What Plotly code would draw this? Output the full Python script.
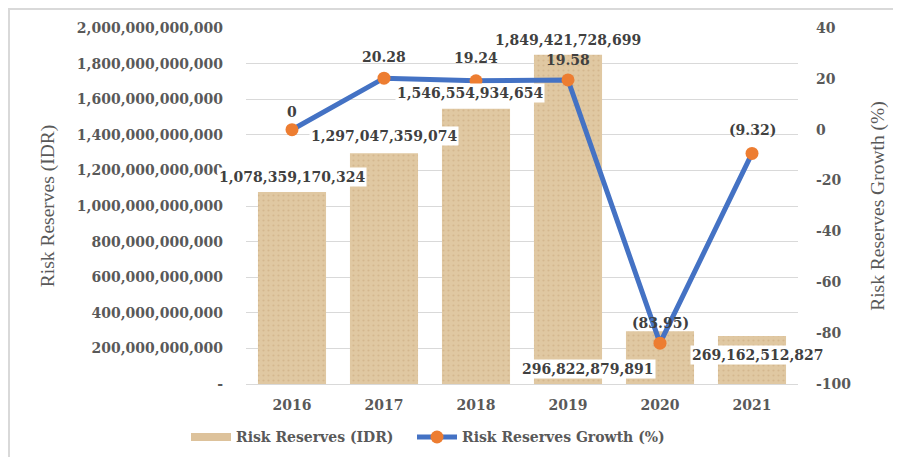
import plotly.graph_objects as go

years = ["2016", "2017", "2018", "2019", "2020", "2021"]
reserves = [1078359170324, 1297047359074, 1546554934654, 1849421728699, 296822879891, 269162512827]
growth = [0, 20.28, 19.24, 19.58, -83.95, -9.32]
left_ticks = [0, 200e9, 400e9, 600e9, 800e9, 1000e9, 1200e9, 1400e9, 1600e9, 1800e9, 2000e9]
right_ticks = [-100, -80, -60, -40, -20, 0, 20, 40]

LFONT = "DejaVu Serif"
TFONT = "Liberation Serif"
GRAY = "#595959"
TAN = "#E0C8A2"

W, H = 893, 449
L, T, PW, PH = 238, 20, 552, 356

# label offsets (styles): (xshift, yshift)
bar_label_shift = [(0, 15), (0, 17), (-6, 16), (0, 15), (-72, -38), (6, -19)]
line_label_shift = [(0, 18), (0, 21), (0, 23), (0, 20), (0, 20), (0, 23)]

def fmt_growth(v):
    if v < 0:
        return "({:.2f})".format(-v)
    if v == 0:
        return "0"
    return "{:.2f}".format(v)

fig = go.Figure()
fig.add_trace(go.Bar(
    x=years, y=reserves, name="Risk Reserves (IDR)", showlegend=False,
    marker=dict(color=TAN, line=dict(width=0),
                pattern=dict(shape=".", fgcolor="#C7A57A", bgcolor=TAN, size=5, solidity=0.15)),
    width=0.74, yaxis="y",
))
# legend key for the bars (wide flat swatch, as in the reference)
fig.add_trace(go.Scatter(
    x=[None], y=[None], name="Risk Reserves (IDR)", mode="lines",
    line=dict(color="#DDC29B", width=8), legend="legend", hoverinfo="skip",
))
fig.add_trace(go.Scatter(
    x=years, y=growth, name="Risk Reserves Growth (%)", yaxis="y2",
    mode="lines+markers",
    line=dict(color="#4472C4", width=5),
    marker=dict(color="#ED7D31", size=13, line=dict(width=0)),
    legend="legend2",
))

bold = dict(family=LFONT, size=14, color="#404040", weight="bold")
annotations = []
for i, v in enumerate(reserves):
    xs, ys = bar_label_shift[i]
    annotations.append(dict(
        x=i, y=v, xref="x", yref="y", text="{:,}".format(v),
        showarrow=False, xshift=xs, yshift=ys, bgcolor="white", font=bold,
    ))
for i, g in enumerate(growth):
    xs, ys = line_label_shift[i]
    annotations.append(dict(
        x=i, y=g, xref="x", yref="y2", text=fmt_growth(g),
        showarrow=False, xshift=xs, yshift=ys, font=bold,
    ))

left_text = ["-"] + ["{:,.0f}".format(t) for t in left_ticks[1:]]
right_text = [str(t) for t in right_ticks]
tickfont = dict(family=LFONT, size=14, color=GRAY, weight="bold")
legfont = dict(family=LFONT, size=14, color=GRAY, weight="bold")

fig.update_layout(
    width=W, height=H,
    margin=dict(l=L, r=W - L - PW, t=T, b=H - T - PH, autoexpand=False),
    paper_bgcolor="white", plot_bgcolor="white",
    font=dict(family=TFONT, color=GRAY),
    showlegend=True,
    legend=dict(orientation="h", x=(186 - 246) / PW, xanchor="left", y=-0.15, yanchor="middle",
                font=legfont, itemwidth=40, bgcolor="rgba(0,0,0,0)"),
    legend2=dict(orientation="h", x=(412 - 246) / PW, xanchor="left", y=-0.15, yanchor="middle",
                 font=legfont, itemwidth=40, bgcolor="rgba(0,0,0,0)"),
    xaxis=dict(
        type="category", range=[-0.5, len(years) - 0.5], showgrid=False, showline=True,
        linecolor="#D9D9D9", linewidth=1, tickfont=tickfont,
        ticks="", ticklabelstandoff=8,
    ),
    yaxis=dict(
        range=[0, 2e12], tickvals=left_ticks, ticktext=left_text,
        showgrid=True, gridcolor="#D9D9D9", gridwidth=1, zeroline=False,
        tickfont=tickfont, ticklabelstandoff=22,
        title=dict(text="Risk Reserves (IDR)", font=dict(family=TFONT, size=19.5, color=GRAY), standoff=17),
    ),
    yaxis2=dict(
        range=[-100, 40], tickvals=right_ticks, ticktext=right_text, overlaying="y", side="right",
        showgrid=False, zeroline=False,
        tickfont=tickfont, ticklabelstandoff=17,
        title=dict(text="Risk Reserves Growth (%)", font=dict(family=TFONT, size=19.5, color=GRAY), standoff=20),
    ),
    annotations=annotations,
    shapes=[
        dict(type="line", xref="paper", yref="paper", x0=-L / PW, x1=(W - L) / PW,
             y0=(PH + T - 1) / PH, y1=(PH + T - 1) / PH, line=dict(color="#D9D9D9", width=2)),
        dict(type="line", xref="paper", yref="paper", x0=-(L - 1) / PW, x1=-(L - 1) / PW,
             y0=(PH + T) / PH, y1=-(H - T - PH) / PH, line=dict(color="#D9D9D9", width=2)),
    ],
)

fig.write_html("out.html")
